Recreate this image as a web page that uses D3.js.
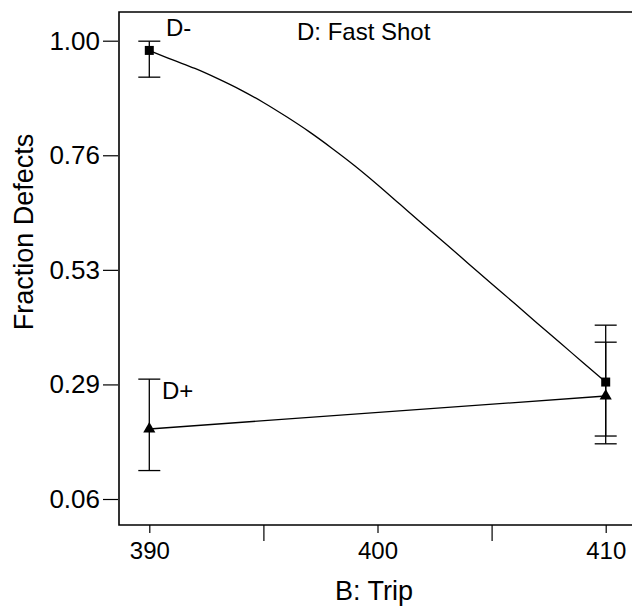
<!DOCTYPE html>
<html>
<head>
<meta charset="utf-8">
<script src="https://cdn.jsdelivr.net/npm/d3@7"></script>
<style>
  body { margin: 0; background: #fff; }
  svg { display: block; font-family: "Liberation Sans", Arial, sans-serif; }
</style>
</head>
<body>
<div class="chart"></div>
<script>
// values
const trip = [390, 410]
const dMinus = [0.980, 0.298]
const dMinusHi = [0.999, 0.415]
const dMinusLo = [0.925, 0.187]
const dPlus = [0.2015, 0.2693]
const dPlusHi = [0.304, 0.380]
const dPlusLo = [0.116, 0.171]

// fitted curve for D-
const curveTrip = [390, 391, 392, 393, 394, 395, 396, 397, 398, 399, 400,
                   401, 402, 403, 404, 405, 406, 407, 408, 409, 410]
const curveDMinus = [0.980, 0.961, 0.943, 0.922, 0.899, 0.873, 0.844, 0.813, 0.779, 0.743, 0.704,
                     0.663, 0.622, 0.582, 0.541, 0.500, 0.460, 0.419, 0.379, 0.338, 0.298]

const yTicks = [0.0575, 0.293125, 0.52875, 0.764375, 1.0]
const yTickLabels = ['0.06', '0.29', '0.53', '0.76', '1.00']
const xMajor = [390, 400, 410]
const xMinor = [395, 405]

const w = 632, h = 606

const svg = d3.select('.chart').append('svg')
              .attr('width', w)
              .attr('height', h)

const x = d3.scaleLinear().domain([390, 410]).range([149.3, 605.7])
const y = d3.scaleLinear().domain([0.0575, 1.0]).range([499, 40.7])

const frameLeft = 119, frameTop = 12, frameBottom = 525

// frame (right side runs off the picture)
svg.append('path')
   .attr('d', `M${w},${frameTop}H${frameLeft}V${frameBottom}H${w}`)
   .attr('fill', 'none')
   .attr('stroke', '#000')
   .attr('stroke-width', 1.6)

// y axis
const yAxis = d3.axisLeft(y)
                .tickValues(yTicks)
                .tickFormat((d, i) => yTickLabels[i])
                .tickSize(15)
                .tickPadding(3)
const gy = svg.append('g')
              .attr('transform', `translate(${frameLeft - 1},0)`)
              .call(yAxis)
gy.select('.domain').remove()
gy.selectAll('line').attr('stroke', '#000').attr('stroke-width', 1.2)
gy.selectAll('text').attr('font-size', 26).attr('fill', '#000')
gy.attr('font-family', null).attr('font-size', null)

// x axis, major + minor ticks
const gx = svg.append('g')
              .attr('transform', `translate(0,${frameBottom})`)
              .call(d3.axisBottom(x).tickValues(xMajor).tickFormat(d3.format('d')).tickSize(8).tickPadding(9))
gx.select('.domain').remove()
gx.selectAll('line').attr('stroke', '#000').attr('stroke-width', 1.2)
gx.selectAll('text').attr('font-size', 24).attr('fill', '#000')
gx.attr('font-family', null).attr('font-size', null)

const gxm = svg.append('g')
               .attr('transform', `translate(0,${frameBottom})`)
               .call(d3.axisBottom(x).tickValues(xMinor).tickFormat('').tickSize(16))
gxm.select('.domain').remove()
gxm.selectAll('line').attr('stroke', '#000').attr('stroke-width', 1.2)

// axis titles
svg.append('text')
   .text('B: Trip')
   .attr('x', 374)
   .attr('y', 600)
   .attr('text-anchor', 'middle')
   .attr('font-size', 27)

svg.append('text')
   .text('Fraction Defects')
   .attr('transform', 'translate(33,232) rotate(-90)')
   .attr('text-anchor', 'middle')
   .attr('font-size', 27)

// lines
const line = d3.line()
               .x((d) => x(d[0]))
               .y((d) => y(d[1]))
               .curve(d3.curveMonotoneX)

svg.append('path')
   .datum(curveTrip.map((t, i) => [t, curveDMinus[i]]))
   .attr('d', line)
   .attr('fill', 'none')
   .attr('stroke', '#000')
   .attr('stroke-width', 1.3)

svg.append('path')
   .datum(trip.map((t, i) => [t, dPlus[i]]))
   .attr('d', line)
   .attr('fill', 'none')
   .attr('stroke', '#000')
   .attr('stroke-width', 1.3)

// error bars
const errorBars = (hi, lo) => {
  trip.forEach((t, i) => {
    const g = svg.append('g').attr('stroke', '#000').attr('stroke-width', 1.3)
    g.append('line').attr('x1', x(t)).attr('x2', x(t)).attr('y1', y(hi[i])).attr('y2', y(lo[i]))
    g.append('line').attr('x1', x(t) - 11).attr('x2', x(t) + 11).attr('y1', y(hi[i])).attr('y2', y(hi[i]))
    g.append('line').attr('x1', x(t) - 11).attr('x2', x(t) + 11).attr('y1', y(lo[i])).attr('y2', y(lo[i]))
  })
}
errorBars(dMinusHi, dMinusLo)
errorBars(dPlusHi, dPlusLo)

// markers
svg.selectAll('.sq')
   .data(trip.map((t, i) => [t, dMinus[i]]))
   .enter()
   .append('path')
   .attr('class', 'sq')
   .attr('d', d3.symbol(d3.symbolSquare, 81))
   .attr('transform', (d) => `translate(${x(d[0])},${y(d[1])})`)
   .attr('fill', '#000')

svg.selectAll('.tri')
   .data(trip.map((t, i) => [t, dPlus[i]]))
   .enter()
   .append('path')
   .attr('class', 'tri')
   .attr('d', d3.symbol(d3.symbolTriangle, 64))
   .attr('transform', (d) => `translate(${x(d[0])},${y(d[1])})`)
   .attr('fill', '#000')

// labels
svg.append('text').text('D-').attr('x', 166).attr('y', 36).attr('font-size', 24)
svg.append('text').text('D+').attr('x', 162).attr('y', 399).attr('font-size', 24)
svg.append('text').text('D: Fast Shot').attr('x', 297).attr('y', 40).attr('font-size', 24)
</script>
</body>
</html>
